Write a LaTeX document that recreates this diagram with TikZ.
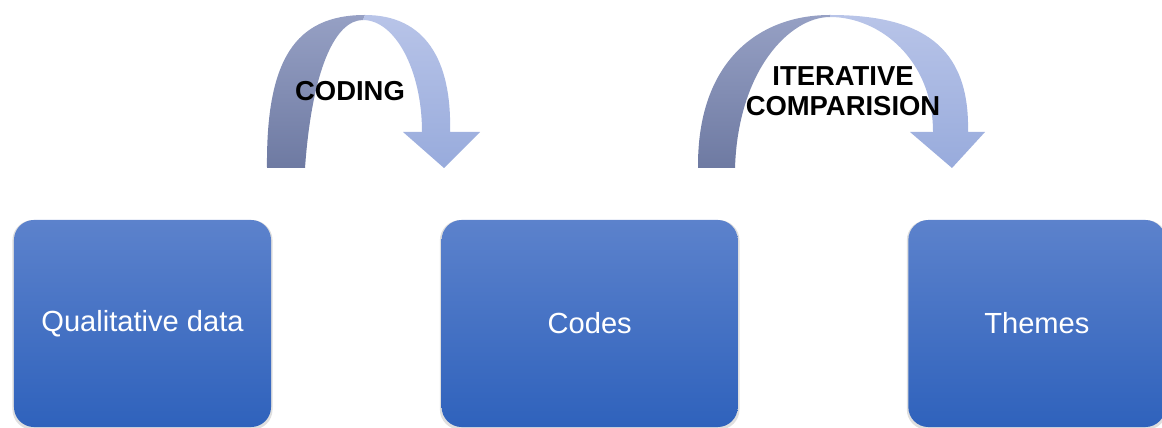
\documentclass[tikz,border=0pt]{standalone}
\usepackage{fontspec}
\setmainfont{Liberation Sans}
\usetikzlibrary{positioning,shadows}

\definecolor{boxtop}{RGB}{92,130,204}
\definecolor{boxbot}{RGB}{47,98,188}
\definecolor{bandtop}{RGB}{150,160,196}
\definecolor{bandbot}{RGB}{110,122,162}
\definecolor{headtop}{RGB}{184,196,232}
\definecolor{headbot}{RGB}{152,171,220}

\begin{document}
\begin{tikzpicture}[
    x=0.025cm, y=0.025cm,
    node distance=4.25cm,
    stage/.style={
        rectangle,
        rounded corners=0.5cm,
        minimum width=6.425cm,
        minimum height=5.175cm,
        top color=boxtop,
        bottom color=boxbot,
        text=white,
        font=\fontsize{20.7}{24}\selectfont,
        drop shadow={shadow xshift=0pt, shadow yshift=-1pt, shadow scale=1.012, opacity=0.25}
    },
    back/.style={
        top color=bandtop,
        bottom color=bandbot
    },
    front/.style={
        top color=headtop,
        bottom color=headbot
    },
    tag/.style={
        font=\fontsize{19.5}{21.3}\selectfont\bfseries,
        align=center
    }
  ]
  \useasboundingbox (0,0) rectangle (1162,427);

  % the three blocks
  \node [stage] (data) at (142.5,103.5) {Qualitative data};
  \node [stage, right=of data, minimum width=7.4cm] (codes) {Codes};
  \node [stage, right=of codes] (themes) {Themes};

  % first curved arrow: the back half, then the front half with the head
  \path [back] (267,259) .. controls (266,367) and (295,412) .. (365,412)
    -- (363,407) .. controls (335,407) and (312,357) .. (305,259) -- cycle;
  \path [front] (365,412) .. controls (425,412) and (452,367) .. (450,295)
    -- (480,295) -- (444,259) -- (403,295) -- (422,295)
    .. controls (422,357) and (395,407) .. (363,407) -- cycle;

  % second curved arrow
  \path [back] (698,259) .. controls (697,367) and (760,412) .. (830,412)
    -- (830,410) .. controls (790,410) and (738,357) .. (735,259) -- cycle;
  \path [front] (830,412) .. controls (920,412) and (970,382) .. (968,295)
    -- (985,295) -- (952,259) -- (910,295) -- (933,295)
    .. controls (933,367) and (880,410) .. (830,410) -- cycle;

  \node [tag] (coding) at (350,336) {CODING};
  \node [tag] (iterative) at (843,336) {ITERATIVE\\COMPARISION};
\end{tikzpicture}
\end{document}
